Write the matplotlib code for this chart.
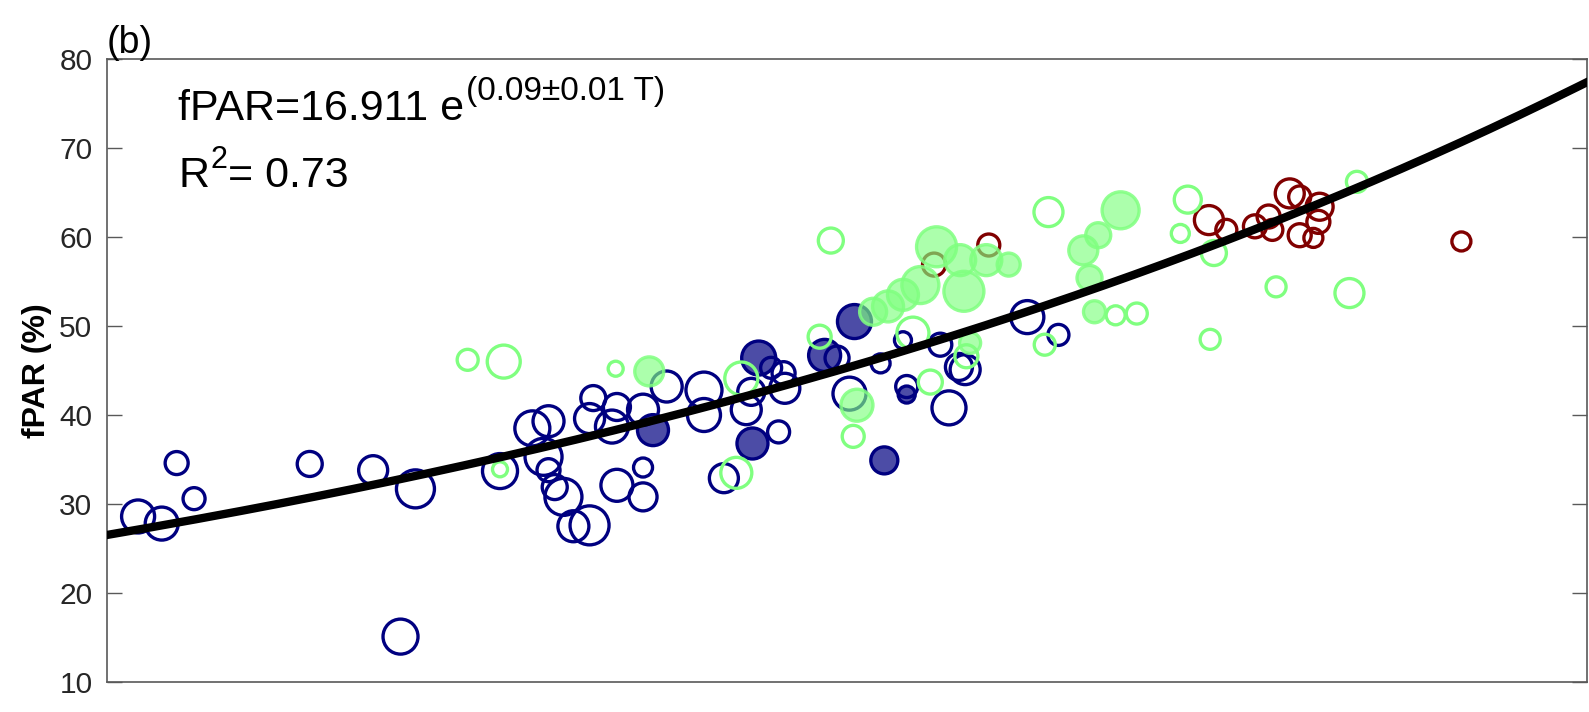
import numpy as np
import matplotlib.pyplot as plt
from matplotlib.transforms import IdentityTransform

plt.rcParams['font.family'] = ['Liberation Sans', 'DejaVu Sans']

# fit: fPAR = A * exp(B * T)
A, B = 16.911, 0.09
T_MIN, T_MAX = 5.0, 16.9

# navy, open
no_T = [5.25, 5.44, 5.56, 5.70, 6.63, 7.14, 7.48, 7.36, 8.16, 8.91, 8.88, 9.10,
        9.06, 9.31, 9.50, 9.80, 9.80, 8.42, 8.55, 8.51, 8.55, 8.60, 8.67, 8.75,
        8.88, 9.10, 9.31, 9.31, 9.96, 10.40, 10.34, 10.44, 10.45, 10.18, 10.14,
        10.87, 10.97, 11.22, 11.40, 11.70, 11.85, 11.90, 12.40, 12.65, 11.43, 11.77]
no_f = [28.6, 27.8, 34.6, 30.6, 34.5, 33.8, 31.7, 15.1, 33.7, 41.9, 39.6, 40.9,
        38.7, 40.6, 43.2, 42.8, 40.0, 38.5, 39.3, 35.3, 33.8, 31.9, 30.8, 27.5,
        27.6, 32.1, 34.1, 30.8, 32.9, 38.1, 45.3, 44.7, 43.0, 42.6, 40.6,
        46.4, 42.4, 45.8, 48.4, 47.9, 45.4, 45.1, 51.0, 49.0, 43.2, 40.8]
no_w = [18, 18, 13, 12.5, 14, 16, 20.5, 19, 19, 14, 16.5, 15,
        18, 17, 17, 19.5, 18, 19, 17, 20, 13, 14, 20, 17,
        21, 17.5, 11, 15.5, 16, 12.5, 12, 13, 16.5, 15, 16.5,
        13.5, 18, 11, 10, 13, 15, 16.5, 18, 12, 12.5, 18.5]

# navy, filled
nf_T = [9.39, 10.19, 10.24, 10.77, 11.01, 11.25, 11.43]
nf_f = [38.3, 36.8, 46.4, 46.7, 50.5, 34.9, 42.3]
nf_w = [17, 17, 18.5, 17.5, 18.5, 15, 10]

# dark red, open
ro_T = [11.65, 12.09, 13.86, 14.00, 14.23, 14.34, 14.51, 14.59, 14.75, 14.74,
        14.59, 14.70, 15.89, 14.37]
ro_f = [56.9, 59.1, 61.9, 60.8, 61.2, 62.3, 64.9, 64.5, 63.4, 61.7,
        60.2, 59.9, 59.5, 60.8]
ro_w = [13, 12.5, 16, 12, 13, 13, 16, 12.5, 15, 13, 13, 11, 11, 12]

# light green, open
go_T = [7.90, 8.19, 9.09, 8.16, 10.06, 10.10, 10.73, 10.82, 11.00, 11.48, 11.62,
        11.91, 12.54, 12.57, 13.11, 13.28, 13.69, 13.63, 13.90, 13.87, 14.40,
        14.99, 15.05]
go_f = [46.2, 46.0, 45.2, 33.9, 33.5, 44.1, 48.8, 59.6, 37.6, 49.2, 43.7,
        46.6, 47.9, 62.8, 51.2, 51.4, 64.2, 60.4, 58.2, 48.5, 54.4,
        53.7, 66.2]
go_w = [12, 18, 9, 9, 17, 18, 13, 14, 12.5, 17.5, 13.5,
        13, 12, 16, 11, 12, 15, 10.5, 14, 11.5, 11.5,
        16, 12]

# light green, filled
gf_T = [9.36, 11.03, 11.94, 11.28, 11.40, 11.54, 11.67, 11.86, 11.89, 12.07,
        12.25, 12.85, 12.97, 12.90, 12.94, 13.15, 11.16]
gf_f = [44.9, 41.1, 48.1, 52.2, 53.5, 54.6, 58.9, 57.4, 53.9, 57.4,
        56.9, 58.5, 60.2, 55.4, 51.6, 63.0, 51.6]
gf_w = [16, 17.5, 12, 17, 17, 20, 21.5, 17, 21.5, 17,
        13, 16, 14, 14, 12.5, 20, 15]

navy = '#000080'
green = '#80ff80'
dred = '#800000'


def msize(w):
    # ring radius in px -> scatter area in pt^2 (dpi 100)
    d = (2 * np.asarray(w) - 3) * 0.72
    return d ** 2


fig = plt.figure(figsize=(15.89, 7.12), dpi=100)
ax = fig.add_axes([0.06734, 0.04213, 0.93140, 0.87500])

ax.scatter(no_T, no_f, s=msize(no_w), facecolors='none', edgecolors=navy, linewidths=2.4, zorder=2)
ax.scatter(nf_T, nf_f, s=msize(nf_w), facecolors=(0.0, 0.0, 0.5, 0.7), edgecolors=navy, linewidths=2.4, zorder=3)
ax.scatter(ro_T, ro_f, s=msize(ro_w), facecolors='none', edgecolors=dred, linewidths=2.4, zorder=4)
ax.scatter(go_T, go_f, s=msize(go_w), facecolors='none', edgecolors=green, linewidths=2.4, zorder=5)
ax.scatter(gf_T, gf_f, s=msize(gf_w), facecolors=(0.5, 1.0, 0.5, 0.65),
           edgecolors=(0.5, 1.0, 0.5, 0.85), linewidths=2.4, zorder=6)

T_fit = np.linspace(T_MIN, T_MAX, 200)
ax.plot(T_fit, A * np.exp(B * T_fit), color='black', lw=6, zorder=7)

ax.set_xlim(T_MIN, T_MAX)
ax.set_ylim(10, 80)
ax.set_yticks(np.arange(10, 81, 10))
ax.set_xticks([])
ax.tick_params(axis='y', direction='in', length=10.8, width=1.0, right=True,
               labelsize=21.5, pad=10.5, colors='0.35', labelcolor='#262626')
for sp in ax.spines.values():
    sp.set_color('0.35')
    sp.set_linewidth(1.2)

# equation text: base text, then superscripts placed in pixels
x0 = 0.048
t1 = ax.text(x0, 0.902, 'fPAR=16.911 e', transform=ax.transAxes, fontsize=31,
             va='baseline', ha='left')
t2 = ax.text(x0, 0.794, 'R', transform=ax.transAxes, fontsize=31,
             va='baseline', ha='left')
fig.canvas.draw()
px = IdentityTransform()
b1 = ax.transAxes.transform((x0, 0.902))[1]
b2 = ax.transAxes.transform((x0, 0.794))[1]
e1 = t1.get_window_extent()
ax.text(e1.x1 + 2, b1 + 20, '(0.09\u00b10.01 T)', transform=px, fontsize=24,
        va='baseline', ha='left')
e2 = t2.get_window_extent()
s2 = ax.text(e2.x1 + 1, b2 + 19, '2', transform=px, fontsize=22,
             va='baseline', ha='left')
fig.canvas.draw()
e3 = s2.get_window_extent()
ax.text(e3.x1 + 1, b2, '= 0.73', transform=px, fontsize=31, va='baseline', ha='left')

fig.text(0.067, 0.915, '(b)', fontsize=27, ha='left', va='bottom')
fig.text(0.0233, 0.480, 'fPAR (%)', fontsize=23, fontweight='bold', rotation=90,
         ha='center', va='center')

fig.savefig('out.png', dpi=100)
